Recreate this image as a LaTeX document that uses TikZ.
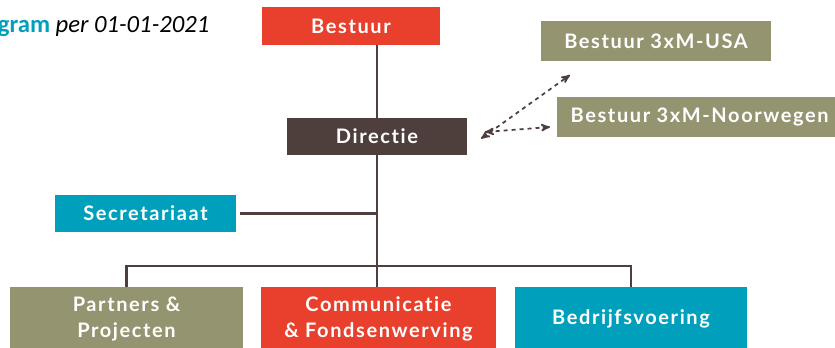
\documentclass[tikz,border=0pt]{standalone}
\usepackage{fontspec}
\setmainfont{Lato}[Ligatures=NoCommon, LetterSpace=8]
\newfontfamily\titlefont{Carlito}
\usetikzlibrary{positioning}
\usetikzlibrary{arrows}
\definecolor{orgred}{HTML}{E8402C}
\definecolor{orgbrown}{HTML}{4E3F3C}
\definecolor{orgcyan}{HTML}{00A0BC}
\definecolor{orgolive}{HTML}{949470}
\begin{document}
\begin{tikzpicture}[x=0.75pt,y=-0.75pt]

\tikzstyle{unit}=[rectangle, minimum height=28pt, inner sep=2pt, text=white, font=\fontsize{15}{20}\selectfont\bfseries, align=center]
\tikzstyle{redunit}=[unit, fill=orgred]
\tikzstyle{brownunit}=[unit, fill=orgbrown]
\tikzstyle{cyanunit}=[unit, fill=orgcyan]
\tikzstyle{oliveunit}=[unit, fill=orgolive]
\tikzstyle{link}=[draw=orgbrown, line width=1.9pt]
\tikzstyle{dashlink}=[draw=orgbrown, line width=1.3pt, dashed, stealth'-stealth']

\useasboundingbox (0,0) rectangle (835,347);

\node[anchor=east, font=\titlefont\fontsize{18.5}{22}\selectfont] (title) at (214,27)
  {\textcolor{orgcyan}{\bfseries gram} \itshape per 01-01-2021};

\node[redunit, minimum width=133.5pt] (bestuur) at (351,26) {Bestuur};
\node[brownunit, minimum width=135pt] (directie) at (377,136.5) {Directie};
\node[oliveunit, minimum width=172.5pt, minimum height=30pt] (usa) at (656,41) {Bestuur 3xM-USA};
\node[oliveunit, minimum width=216pt, minimum height=30pt] (noorwegen) at (701,117) {\hspace*{-2pt}Bestuur 3xM-Noorwegen};
\node[cyanunit, minimum width=135.75pt] (secretariaat) at (145.5,213.5) {Secretariaat};
\node[oliveunit, minimum width=174.75pt, minimum height=48pt] (partners) at (126.5,319) {Partners \&\\Projecten};
\node[redunit, minimum width=176.25pt, minimum height=48pt] (communicatie) at (378.5,319) {Communicatie\\\& Fondsenwerving};
\node[cyanunit, minimum width=174pt, minimum height=48pt] (bedrijf) at (631,319) {Bedrijfsvoering};

\coordinate (bus) at (377,266);
\coordinate (dirout) at (481,136);
\coordinate (usain) at (570,75);
\coordinate (noorin) at (550,127);

\draw[link] (directie.north) -- (directie.north |- bestuur.south);
\draw[link] (directie.south) -- (bus) -- (bus |- communicatie.north);
\draw[link] ([xshift=3pt]secretariaat.east) -- (secretariaat.east -| bus);
\draw[link] (partners.north) -- (partners.north |- bus) -- (bedrijf.north |- bus) -- (bedrijf.north);

\draw[dashlink] ([yshift=-2pt]dirout) -- (usain);
\draw[dashlink] ([xshift=3pt,yshift=3pt]dirout) -- (noorin);

\end{tikzpicture}
\end{document}
